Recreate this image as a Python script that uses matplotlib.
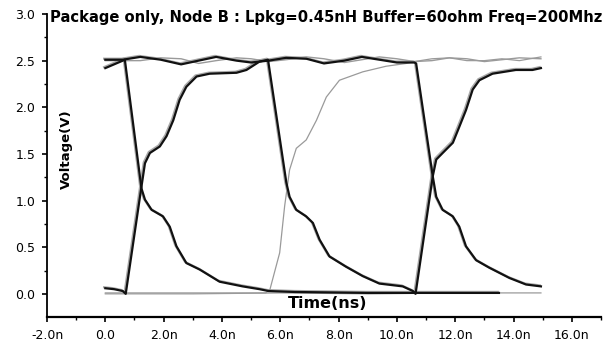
import matplotlib
matplotlib.use("Agg")
import matplotlib.pyplot as plt
import matplotlib.transforms as mtransforms
from matplotlib.ticker import MultipleLocator, FuncFormatter

# waveform A (dark): low -> rise -> high -> fall -> low -> rise
a_t = [0.0, 0.3, 0.6, 0.7, 1.24, 1.36, 1.53, 1.87, 2.10, 2.33, 2.55, 2.78, 3.13, 3.58,
       4.50, 4.84, 5.29, 5.58, 6.21, 6.32, 6.55, 6.89, 7.12, 7.35, 7.69, 8.26, 8.83,
       9.40, 10.2, 10.55, 10.64, 11.23, 11.35, 11.57, 11.92, 12.14, 12.37, 12.60,
       12.83, 13.28, 14.08, 14.65, 14.94]
a_v = [0.06, 0.05, 0.03, 0.0, 1.15, 1.40, 1.51, 1.58, 1.69, 1.86, 2.08, 2.22, 2.33, 2.36,
       2.37, 2.40, 2.49, 2.51, 1.19, 1.04, 0.90, 0.83, 0.76, 0.58, 0.40, 0.29, 0.19,
       0.11, 0.08, 0.03, 0.0, 1.26, 1.44, 1.51, 1.62, 1.79, 1.97, 2.19,
       2.29, 2.36, 2.40, 2.40, 2.42]

# waveform B (dark): high -> fall -> stays low
b_t = [0.0, 0.3, 0.6, 0.67, 1.24, 1.36, 1.59, 1.98, 2.21, 2.44, 2.78, 3.24, 3.92, 4.71,
       5.29, 5.60, 6.50, 9.00, 11.8, 13.5]
b_v = [2.42, 2.46, 2.50, 2.51, 1.13, 1.01, 0.90, 0.83, 0.72, 0.51, 0.33, 0.26, 0.13, 0.08,
       0.05, 0.03, 0.02, 0.01, 0.01, 0.01]

# waveform C (dark): high until the third edge, then falls
c_t = [0.0, 0.6, 1.2, 1.9, 2.6, 3.2, 3.8, 4.5, 5.0, 5.6, 6.2, 6.9, 7.5, 8.2, 8.8, 9.4,
       10.0, 10.6, 10.66, 11.23, 11.35, 11.57, 11.92, 12.14, 12.37, 12.72, 13.17, 13.86,
       14.43, 14.94]
c_v = [2.51, 2.51, 2.54, 2.51, 2.46, 2.50, 2.54, 2.50, 2.48, 2.50, 2.53, 2.52, 2.47, 2.50,
       2.54, 2.51, 2.48, 2.48, 2.47, 1.26, 1.04, 0.90, 0.83, 0.72, 0.51, 0.36, 0.28, 0.17,
       0.10, 0.08]

# grey traces
g_hi_t = [0.0, 0.6, 1.2, 1.9, 2.6, 3.2, 3.8, 4.5, 5.0, 5.6, 6.2, 6.9, 7.5, 8.2, 8.8, 9.4,
          10.0, 10.6, 11.2, 11.8, 12.4, 13.0, 13.6, 14.2, 14.94]
g_hi_v = [2.50, 2.50, 2.50, 2.53, 2.52, 2.47, 2.50, 2.53, 2.52, 2.49, 2.51, 2.54, 2.52,
          2.48, 2.51, 2.54, 2.52, 2.49, 2.50, 2.53, 2.52, 2.49, 2.51, 2.53, 2.52]

g_lo_t = [0.0, 3.0, 6.0, 9.0, 12.0, 14.94]
g_lo_v = [0.0, 0.0, 0.01, 0.0, 0.01, 0.01]

g_rise_t = [0.0, 5.50, 5.64, 5.98, 6.15, 6.32, 6.55, 6.89, 7.24, 7.58, 8.03, 8.83, 9.63,
            10.32, 10.6, 11.2, 11.8, 12.4, 13.0, 13.6, 14.2, 14.94]
g_rise_v = [0.01, 0.01, 0.04, 0.44, 0.94, 1.33, 1.56, 1.65, 1.86, 2.11, 2.29, 2.38, 2.44,
            2.47, 2.49, 2.52, 2.53, 2.50, 2.50, 2.52, 2.50, 2.54]

x_ticks = [-2, 0, 2, 4, 6, 8, 10, 12, 14, 16]
y_ticks = [0.0, 0.5, 1.0, 1.5, 2.0, 2.5, 3.0]

title = "Package only, Node B : Lpkg=0.45nH Buffer=60ohm Freq=200Mhz"

fig = plt.figure(figsize=(6.07, 3.41), dpi=100)
ax = fig.add_axes([47 / 607, 24.3 / 341, 554 / 607, 302.7 / 341])

# grey halo copies under the dark traces (scan shows a lighter twin of each)
halo = mtransforms.offset_copy(ax.transData, fig=fig, x=-1.2, y=1.0, units="dots")
for t, v in [(a_t, a_v), (b_t, b_v), (c_t, c_v)]:
    ax.plot(t, v, color="#a8a8a8", lw=1.6, transform=halo, zorder=1)

ax.plot(g_lo_t, g_lo_v, color="#9a9a9a", lw=0.9, zorder=1)
ax.plot(g_hi_t, g_hi_v, color="#9a9a9a", lw=1.0, zorder=1)
ax.plot(g_rise_t, g_rise_v, color="#9a9a9a", lw=0.9, zorder=1)

for t, v in [(a_t, a_v), (b_t, b_v), (c_t, c_v)]:
    ax.plot(t, v, color="#111111", lw=1.6, zorder=2)

ax.set_xlim(-2, 17)
ax.set_ylim(-0.245, 3.0)
ax.set_xticks(x_ticks)
ax.set_yticks(y_ticks)
ax.xaxis.set_minor_locator(MultipleLocator(1))
ax.yaxis.set_minor_locator(MultipleLocator(0.25))
ax.xaxis.set_major_formatter(FuncFormatter(lambda v, p: "0.0" if v == 0 else "%.1fn" % v))
ax.yaxis.set_major_formatter(FuncFormatter(lambda v, p: "%.1f" % v))

ax.spines["top"].set_visible(False)
ax.spines["right"].set_visible(False)
ax.spines["left"].set_linewidth(1.3)
ax.spines["bottom"].set_linewidth(1.6)
ax.tick_params(which="major", direction="out", length=3.5, width=1.2, labelsize=9, pad=5)
ax.tick_params(which="minor", direction="out", length=2, width=1.0)

ax.text(-1.9, 2.965, title, fontsize=10.6, fontweight="bold", va="center", ha="left")
ax.text(7.62, -0.107, "Time(ns)", fontsize=11.5, fontweight="bold", va="center", ha="center")
ax.text(-1.35, 1.55, "Voltage(V)", fontsize=9.5, fontweight="bold", va="center",
        ha="center", rotation=90)

fig.savefig("out.png", dpi=100)
